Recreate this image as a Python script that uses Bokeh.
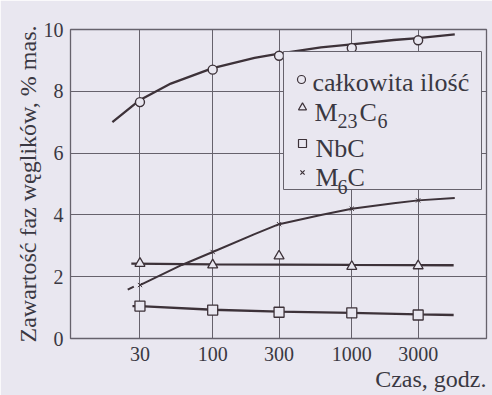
from bokeh.plotting import figure
from bokeh.models import Range1d, LinearScale, FixedTicker, Title
from bokeh.embed import file_html
from bokeh.resources import INLINE
from bokeh.core.properties import value

# ageing time, hours
hours = [30, 100, 300, 1000, 3000]
tick_hours = [30, 100, 300, 1000, 3000]
tick_hour_labels = ["30", "100", "300", "1000", "3000"]
tick_content = [0, 2, 4, 6, 8, 10]

# measured carbide content, wt.%
total = [7.65, 8.7, 9.15, 9.4, 9.65]
m23c6 = [2.43, 2.38, 2.67, 2.33, 2.35]
nbc = [1.05, 0.92, 0.85, 0.83, 0.76]
m6c = [1.73, 2.8, 3.7, 4.2, 4.47]

# hand-drawn trend curves through the measurements
total_fit_t = [19, 30, 50, 100, 200, 300, 600, 1000, 2000, 3000, 5500]
total_fit_v = [7.0, 7.72, 8.25, 8.75, 9.08, 9.22, 9.42, 9.52, 9.66, 9.72, 9.84]
m23c6_fit_t = [26, 100, 1000, 5400]
m23c6_fit_v = [2.42, 2.4, 2.38, 2.37]
nbc_fit_t = [26.5, 30, 100, 300, 1000, 3000, 5400]
nbc_fit_v = [1.05, 1.05, 0.93, 0.87, 0.83, 0.78, 0.76]
m6c_fit_t = [30, 60, 100, 200, 300, 600, 1000, 2000, 3000, 5500]
m6c_fit_v = [1.73, 2.38, 2.8, 3.38, 3.7, 4.0, 4.2, 4.38, 4.47, 4.55]
m6c_lead_t = [24.5, 27.1]
m6c_lead_v = [1.58, 1.68]

BG = "#e9e7f0"
INK = "#3d3239"
GRID = "#66626c"
TEXT = "#3a3842"
SERIF = "Liberation Serif"

FL, FR, FT, FB = 70, 486, 29, 338  # frame edges on the page
W, H = 492, 395

p = figure(width=W, height=H, x_axis_type="log",
           x_range=Range1d(9.5, 9300), y_range=Range1d(0, 10),
           output_backend="svg", toolbar_location=None,
           min_border_left=FL, min_border_right=W - FR,
           min_border_top=FT, min_border_bottom=H - FB)

p.background_fill_color = BG
p.border_fill_color = BG
p.outline_line_color = GRID
p.outline_line_width = 1.3

# pixel-space range for the key box
p.extra_x_ranges = {"px": Range1d(FL, FR)}
p.extra_x_scales = {"px": LinearScale()}
p.extra_y_ranges = {"px": Range1d(FB, FT)}
p.extra_y_scales = {"px": LinearScale()}

p.xaxis.ticker = FixedTicker(ticks=tick_hours)
p.xaxis.major_label_overrides = dict(zip(tick_hours, tick_hour_labels))
p.yaxis.ticker = FixedTicker(ticks=tick_content)
p.xgrid.ticker = FixedTicker(ticks=tick_hours)
p.ygrid.ticker = FixedTicker(ticks=tick_content)
for g in (p.xgrid, p.ygrid):
    g.grid_line_color = GRID
    g.grid_line_width = 1

for ax in (p.xaxis, p.yaxis):
    ax.axis_line_color = None
    ax.major_tick_line_color = None
    ax.minor_tick_line_color = None
    ax.major_tick_out = 0
    ax.major_label_text_font = SERIF
    ax.major_label_text_font_size = "20px"
    ax.major_label_text_color = TEXT
    ax.axis_label_text_font = SERIF
    ax.axis_label_text_font_size = "24px"
    ax.axis_label_text_font_style = "normal"
    ax.axis_label_text_color = TEXT

p.xaxis.major_label_standoff = 8
p.yaxis.major_label_standoff = 7
p.yaxis.axis_label = "Zawartość faz węglików, % mas."
p.yaxis.axis_label_standoff = 0

# time axis title, right-aligned under the axis
p.add_layout(Title(text="Czas, godz.", align="right", text_font=SERIF,
                   text_font_size="24px", text_font_style="normal",
                   text_color=TEXT, standoff=0), "below")

# trend curves
p.line(total_fit_t, total_fit_v, line_color=INK, line_width=2.3)
p.line(m23c6_fit_t, m23c6_fit_v, line_color=INK, line_width=2.3)
p.line(nbc_fit_t, nbc_fit_v, line_color=INK, line_width=2.3)
p.line(m6c_fit_t, m6c_fit_v, line_color=INK, line_width=2.0)
p.line(m6c_lead_t, m6c_lead_v, line_color=INK, line_width=2.0)

# measurements
p.scatter(hours, total, marker="circle", size=9, fill_color=BG,
          line_color=INK, line_width=1.4)
p.scatter(hours, m23c6, marker="triangle", size=10, fill_color=BG,
          line_color=INK, line_width=1.3)
p.scatter(hours, nbc, marker="square", size=10, fill_color=BG,
          line_color=INK, line_width=1.3)
p.scatter(hours, m6c, marker="x", size=6, line_color=INK, line_width=1.0)

# key
kw = dict(x_range_name="px", y_range_name="px")
p.quad(left=[283], right=[481], top=[51], bottom=[189], fill_color=BG,
       line_color=GRID, line_width=1, **kw)
p.scatter([301], [79], marker="circle", size=8, fill_color=BG,
          line_color=INK, line_width=1.2, **kw)
p.scatter([302], [107], marker="triangle", size=8, fill_color=BG,
          line_color=INK, line_width=1.2, **kw)
p.scatter([302], [143], marker="square", size=8, fill_color=BG,
          line_color=INK, line_width=1.2, **kw)
p.scatter([302], [172], marker="x", size=6, line_color=INK,
          line_width=1.2, **kw)

big = dict(text_font=value(SERIF), text_font_size="26px", text_color=TEXT,
           text_baseline="alphabetic", text_align="left", **kw)
small = dict(text_font=value(SERIF), text_font_size="20px", text_color=TEXT,
             text_baseline="alphabetic", text_align="left", **kw)
p.text([312], [82], text=["całkowita ilość"], **big)
p.text([314], [112], text=["M"], **big)
p.text([337], [120], text=["23"], **small)
p.text([359], [112], text=["C"], **big)
p.text([377], [120], text=["6"], **small)
p.text([315], [148], text=["NbC"], **big)
p.text([315], [177], text=["M"], **big)
p.text([337], [186], text=["6"], **small)
p.text([347], [177], text=["C"], **big)

open("out.html", "w").write(file_html(p, INLINE))
